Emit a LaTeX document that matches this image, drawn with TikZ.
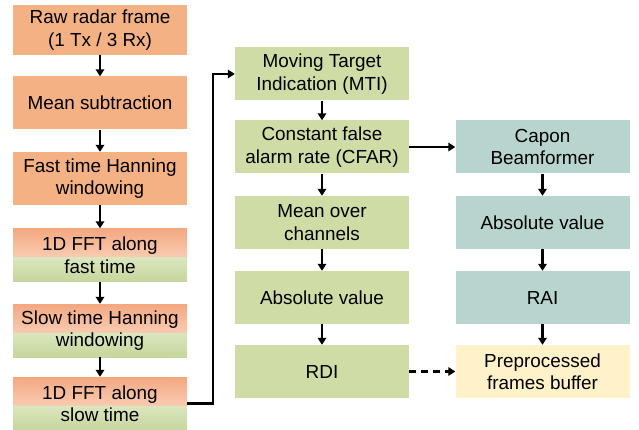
\documentclass[tikz,border=0pt]{standalone}
\usepackage{fontspec}
\setmainfont{Liberation Sans}
\usetikzlibrary{arrows.meta,calc}

\definecolor{orangebox}{RGB}{244,178,132}
\definecolor{greenbox}{RGB}{208,220,166}
\definecolor{tealbox}{RGB}{183,213,206}
\definecolor{yellowbox}{RGB}{255,242,200}
\definecolor{orangetop}{RGB}{243,168,128}
\definecolor{orangemid}{RGB}{249,204,178}
\definecolor{greenmid}{RGB}{218,230,190}
\definecolor{greenbot}{RGB}{198,214,156}

\tikzset{
  block/.style={minimum width=174pt, minimum height=53pt, inner sep=0pt,
    align=center, font=\fontsize{18.9}{22.5}\selectfont},
  orangeblock/.style={block, fill=orangebox},
  greenblock/.style={block, fill=greenbox},
  tealblock/.style={block, fill=tealbox},
  yellowblock/.style={block, fill=yellowbox},
  mixblock/.style={block, path picture={
    \coordinate (pa) at (path picture bounding box.north west);
    \coordinate (pb) at (path picture bounding box.south east);
    \coordinate (pm) at ($(pa)!0.55!(pb)$);
    \fill[top color=orangetop, bottom color=orangemid] (pa) rectangle (pm -| pb);
    \fill[top color=greenmid, bottom color=greenbot] (pa |- pm) rectangle (pb);
  }},
  flow/.style={line width=2.3pt, -{Triangle[width=8.5pt,length=7pt]}},
}

\begin{document}
\begin{tikzpicture}[x=1pt, y=-1pt]
  \useasboundingbox (0,0) rectangle (639,430);

  % left column: signal preprocessing
  \node[orangeblock, minimum height=50pt] (raw) at (100,30) {Raw radar frame\\(1 Tx / 3 Rx)};
  \node[orangeblock] (mean) at (100,103) {Mean subtraction};
  \node[orangeblock] (fast) at (100,178.5) {Fast time Hanning\\windowing};
  \node[mixblock] (fft1) at (100,255) {1D FFT along\\fast time};
  \node[mixblock] (slow) at (100,330.5) {Slow time Hanning\\windowing};
  \node[mixblock] (fft2) at (100,403.5) {1D FFT along\\slow time};

  % middle column: range-Doppler path
  \node[greenblock] (mti) at (322,74) {Moving Target\\Indication (MTI)};
  \node[greenblock] (cfar) at (322,147) {Constant false\\alarm rate (CFAR)};
  \node[greenblock] (chan) at (322,222.5) {Mean over\\channels};
  \node[greenblock] (absd) at (322,297.5) {Absolute value};
  \node[greenblock] (rdi) at (322,371.5) {RDI};

  % right column: range-angle path
  \node[tealblock] (capon) at (542.5,147) {Capon\\Beamformer};
  \node[tealblock] (absa) at (542.5,222.5) {Absolute value};
  \node[tealblock] (rai) at (542.5,297.5) {RAI};
  \node[yellowblock] (buf) at (542.5,371.5) {Preprocessed\\frames buffer};

  % connectors
  \draw[flow] (raw) -- (mean);
  \draw[flow] (mean) -- (fast);
  \draw[flow] (fast) -- (fft1);
  \draw[flow] (fft1) -- (slow);
  \draw[flow] (slow) -- (fft2);
  \coordinate (turn) at (213,403.5);
  \draw[flow] (fft2.east) -- (turn) |- (mti.west);
  \draw[flow] (mti) -- (cfar);
  \draw[flow] (cfar) -- (chan);
  \draw[flow] (chan) -- (absd);
  \draw[flow] (absd) -- (rdi);
  \draw[flow] (cfar) -- (capon);
  \draw[flow] (capon) -- (absa);
  \draw[flow] (absa) -- (rai);
  \draw[flow] (rai) -- (buf);
  \draw[flow, dashed, dash pattern=on 7pt off 5pt] (rdi) -- (buf);
\end{tikzpicture}
\end{document}
